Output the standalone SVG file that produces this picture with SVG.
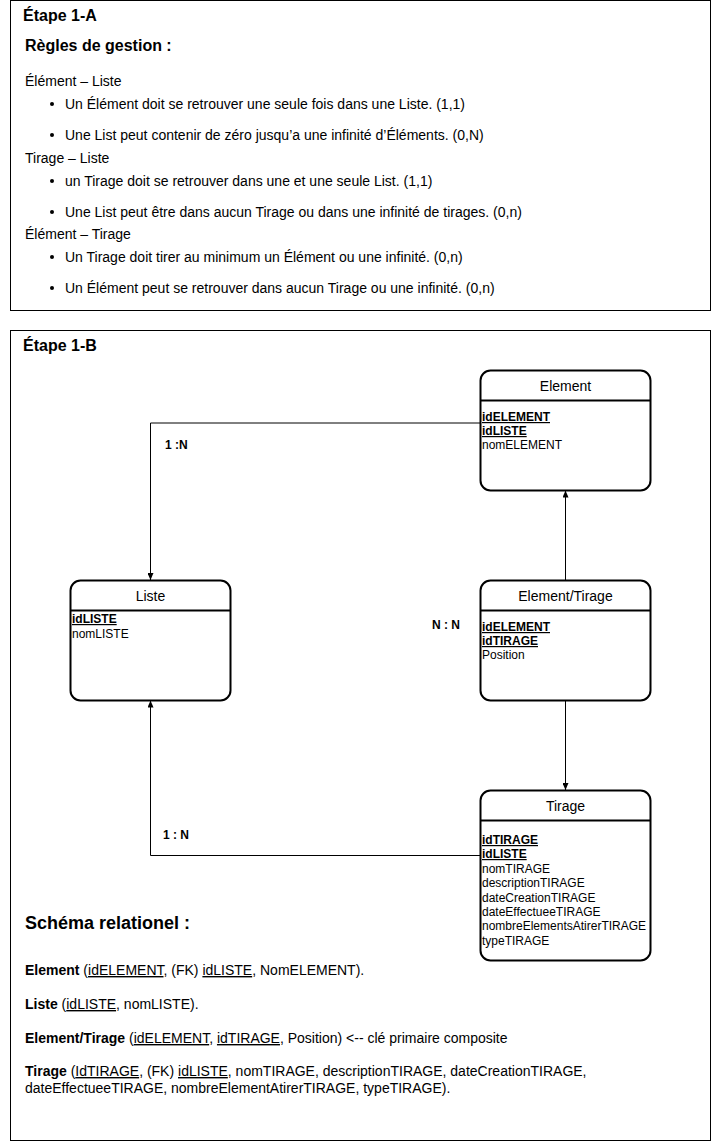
<svg xmlns="http://www.w3.org/2000/svg" width="711" height="1141" viewBox="0 0 711 1141">
  <style>
    text { font-family: "Liberation Sans", Arial, sans-serif; fill: #000; }
    .frame { fill: #fff; stroke: #000; stroke-width: 1; }
    .h1 { font-size: 16px; font-weight: bold; }
    .h2 { font-size: 18px; font-weight: bold; }
    .t14 { font-size: 14px; }
    .ent { fill: #fff; stroke: #000; stroke-width: 2; }
    .sep { stroke: #000; stroke-width: 2; }
    .title { font-size: 14px; text-anchor: middle; }
    .attr { font-size: 12px; }
    .key { font-weight: bold; text-decoration: underline; }
    .lbl { font-size: 12px; font-weight: bold; }
    .edge { fill: none; stroke: #000; stroke-width: 1; }
    .bul { fill: #000; }
  </style>
  <defs>
    <marker id="arrow" viewBox="0 0 7 6" refX="7" refY="3" markerWidth="7" markerHeight="6" markerUnits="userSpaceOnUse" orient="auto">
      <path d="M0,0 L7,3 L0,6 Z" fill="#000"/>
    </marker>
  </defs>

  <!-- Step 1-A: business rules -->
  <g id="etape-1a">
    <rect class="frame" x="10.5" y="0.5" width="700" height="310"/>
    <text class="h1" x="23" y="21">Étape 1-A</text>
    <text class="h1" x="25" y="51">Règles de gestion :</text>
    <text class="t14" x="25" y="86">Élément – Liste</text>
    <circle class="bul" cx="52" cy="104" r="2"/>
    <text class="t14" x="65" y="109">Un Élément doit se retrouver une seule fois dans une Liste. (1,1)</text>
    <circle class="bul" cx="52" cy="135" r="2"/>
    <text class="t14" x="65" y="140">Une List peut contenir de zéro jusqu’a une infinité d’Éléments. (0,N)</text>
    <text class="t14" x="25" y="163">Tirage – Liste</text>
    <circle class="bul" cx="52" cy="181" r="2"/>
    <text class="t14" x="65" y="186">un Tirage doit se retrouver dans une et une seule List. (1,1)</text>
    <circle class="bul" cx="52" cy="212" r="2"/>
    <text class="t14" x="65" y="217">Une List peut être dans aucun Tirage ou dans une infinité de tirages. (0,n)</text>
    <text class="t14" x="25" y="239">Élément – Tirage</text>
    <circle class="bul" cx="52" cy="257" r="2"/>
    <text class="t14" x="65" y="262">Un Tirage doit tirer au minimum un Élément ou une infinité. (0,n)</text>
    <circle class="bul" cx="52" cy="288" r="2"/>
    <text class="t14" x="65" y="293">Un Élément peut se retrouver dans aucun Tirage ou une infinité. (0,n)</text>
  </g>

  <!-- Step 1-B: data model -->
  <g id="etape-1b">
    <rect class="frame" x="10.5" y="330.5" width="700" height="810"/>
    <text class="h1" x="23" y="351">Étape 1-B</text>
  </g>

  <!-- Connectors -->
  <g id="connectors">
    <path class="edge" d="M480,423 H150.5 V580" marker-end="url(#arrow)"/>
    <path class="edge" d="M565.5,580 V490.5" marker-end="url(#arrow)"/>
    <path class="edge" d="M565.5,700.5 V790" marker-end="url(#arrow)"/>
    <path class="edge" d="M480,855.5 H150.5 V700.5" marker-end="url(#arrow)"/>
    <text class="lbl" x="165" y="449">1 :N</text>
    <text class="lbl" x="163" y="839">1 : N</text>
    <text class="lbl" x="432" y="629">N : N</text>
  </g>

  <!-- Entities -->
  <g id="node-element">
    <rect class="ent" x="480.5" y="370.5" width="170" height="120" rx="10"/>
    <line class="sep" x1="480.5" y1="400.5" x2="650.5" y2="400.5"/>
    <text class="title" x="565.5" y="391">Element</text>
    <text class="attr key" x="482" y="421">idELEMENT</text>
    <text class="attr key" x="482" y="435">idLISTE</text>
    <text class="attr" x="482" y="449">nomELEMENT</text>
  </g>

  <g id="node-liste">
    <rect class="ent" x="70.5" y="580.5" width="160" height="120" rx="10"/>
    <line class="sep" x1="70.5" y1="610.5" x2="230.5" y2="610.5"/>
    <text class="title" x="150.5" y="601">Liste</text>
    <text class="attr key" x="72" y="623">idLISTE</text>
    <text class="attr" x="72" y="638">nomLISTE</text>
  </g>

  <g id="node-element-tirage">
    <rect class="ent" x="480.5" y="580.5" width="170" height="120" rx="10"/>
    <line class="sep" x1="480.5" y1="610.5" x2="650.5" y2="610.5"/>
    <text class="title" x="565.5" y="601">Element/Tirage</text>
    <text class="attr key" x="482" y="631">idELEMENT</text>
    <text class="attr key" x="482" y="645">idTIRAGE</text>
    <text class="attr" x="482" y="659">Position</text>
  </g>

  <g id="node-tirage">
    <rect class="ent" x="480.5" y="790.5" width="170" height="170" rx="10"/>
    <line class="sep" x1="480.5" y1="820.5" x2="650.5" y2="820.5"/>
    <text class="title" x="565.5" y="811">Tirage</text>
    <text class="attr key" x="482" y="844">idTIRAGE</text>
    <text class="attr key" x="482" y="858">idLISTE</text>
    <text class="attr" x="482" y="873">nomTIRAGE</text>
    <text class="attr" x="482" y="887">descriptionTIRAGE</text>
    <text class="attr" x="482" y="902">dateCreationTIRAGE</text>
    <text class="attr" x="482" y="916">dateEffectueeTIRAGE</text>
    <text class="attr" x="482" y="930">nombreElementsAtirerTIRAGE</text>
    <text class="attr" x="482" y="945">typeTIRAGE</text>
  </g>

  <!-- Relational schema -->
  <g id="schema">
    <text class="h2" x="25" y="929">Schéma relationel :</text>
    <text class="t14" x="25" y="975"><tspan font-weight="bold">Element</tspan> (<tspan text-decoration="underline">idELEMENT</tspan>, (FK) <tspan text-decoration="underline">idLISTE</tspan>, NomELEMENT).</text>
    <text class="t14" x="25" y="1009"><tspan font-weight="bold">Liste</tspan> (<tspan text-decoration="underline">idLISTE</tspan>, nomLISTE).</text>
    <text class="t14" x="25" y="1043"><tspan font-weight="bold">Element/Tirage</tspan> (<tspan text-decoration="underline">idELEMENT</tspan>, <tspan text-decoration="underline">idTIRAGE</tspan>, Position) &lt;-- clé primaire composite</text>
    <text class="t14" x="25" y="1076"><tspan font-weight="bold">Tirage</tspan> (<tspan text-decoration="underline">IdTIRAGE</tspan>, (FK) <tspan text-decoration="underline">idLISTE</tspan>, nomTIRAGE, descriptionTIRAGE, dateCreationTIRAGE,</text>
    <text class="t14" x="25" y="1093">dateEffectueeTIRAGE, nombreElementAtirerTIRAGE, typeTIRAGE).</text>
  </g>
</svg>
